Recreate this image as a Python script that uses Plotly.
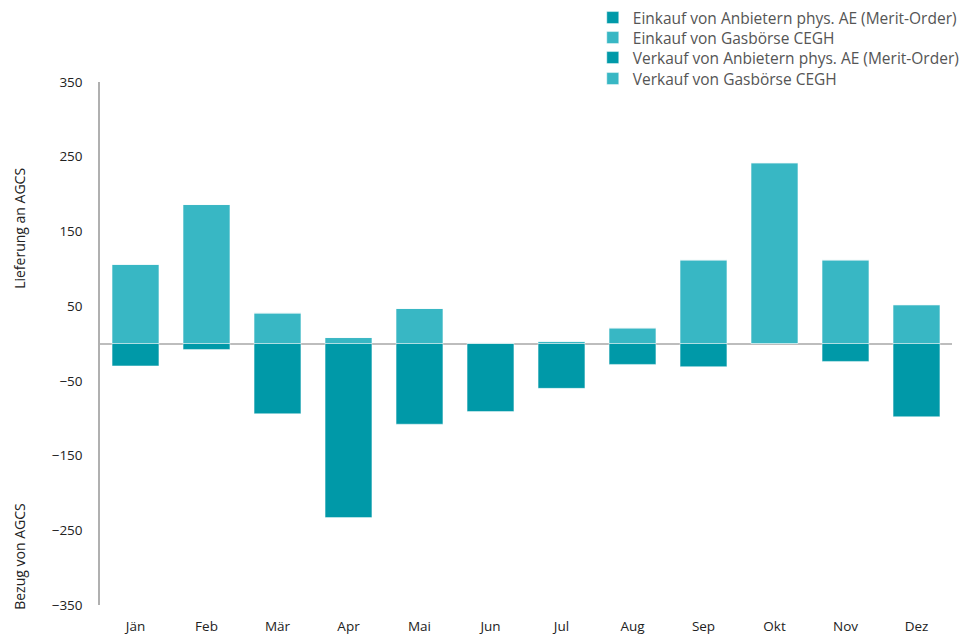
import plotly.graph_objects as go

months = ["Jän", "Feb", "Mär", "Apr", "Mai", "Jun", "Jul", "Aug", "Sep", "Okt", "Nov", "Dez"]
einkauf_anbieter = [-30, -8, -94, -233, -108, -91, -60, -28, -31, 0, -24, -98]
einkauf_cegh = [106, 186, 41, 8, 47, 1, 3, 21, 112, 242, 112, 52]
verkauf_anbieter = [0] * 12
verkauf_cegh = [0] * 12
y_ticks = [350, 250, 150, 50, -50, -150, -250, -350]

DARK = "#0099A8"
LIGHT = "#38B7C4"
edge = dict(color="rgba(255,255,255,0.45)", width=1)

series = [
    ("Einkauf von Anbietern phys. AE (Merit-Order)", einkauf_anbieter, DARK, "legend"),
    ("Einkauf von Gasbörse CEGH", einkauf_cegh, LIGHT, "legend2"),
    ("Verkauf von Anbietern phys. AE (Merit-Order)", verkauf_anbieter, DARK, "legend3"),
    ("Verkauf von Gasbörse CEGH", verkauf_cegh, LIGHT, "legend4"),
]

fig = go.Figure()
for name, vals, color, leg in series:
    fig.add_trace(go.Bar(x=months, y=vals, name=name, legend=leg,
                         marker=dict(color=color, line=edge)))

font_family = "Open Sans, Noto Sans, sans-serif"
H = 635.0
row_centers = [10, 30, 50, 71]  # figure px from top
legends = {}
for i, yc in enumerate(row_centers):
    key = "legend" if i == 0 else f"legend{i + 1}"
    legends[key] = dict(xref="container", yref="container", x=0.601, y=1 - yc / H,
                        xanchor="left", yanchor="middle",
                        font=dict(size=15.5, color="#555", family=font_family),
                        itemwidth=30, bgcolor="rgba(0,0,0,0)")

fig.update_layout(
    width=973, height=635,
    barmode="relative", bargap=0.34,
    plot_bgcolor="white", paper_bgcolor="white",
    margin=dict(l=92, r=29, t=74, b=38, autoexpand=False),
    font=dict(family=font_family, size=13, color="#222"),
    showlegend=True,
    xaxis=dict(showgrid=False, showline=False, zeroline=False, ticks="",
               ticklabelstandoff=11, tickfont=dict(size=13.5, color="#222")),
    yaxis=dict(range=[-350, 350], tickvals=y_ticks, showgrid=False,
               showline=True, linecolor="#b0b0b0", linewidth=1.5,
               zeroline=True, zerolinecolor="#bdbdbd", zerolinewidth=2,
               ticks="", ticklabelstandoff=13, tickfont=dict(size=13.5, color="#222")),
    annotations=[
        dict(text="Lieferung an AGCS", xref="paper", yref="paper", x=-0.094, y=0.721,
             textangle=-90, showarrow=False, font=dict(size=14, color="#222"), xanchor="center", yanchor="middle"),
        dict(text="Bezug von AGCS", xref="paper", yref="paper", x=-0.094, y=0.092,
             textangle=-90, showarrow=False, font=dict(size=14, color="#222"), xanchor="center", yanchor="middle"),
    ],
    **legends,
)

fig.write_html("out.html")
